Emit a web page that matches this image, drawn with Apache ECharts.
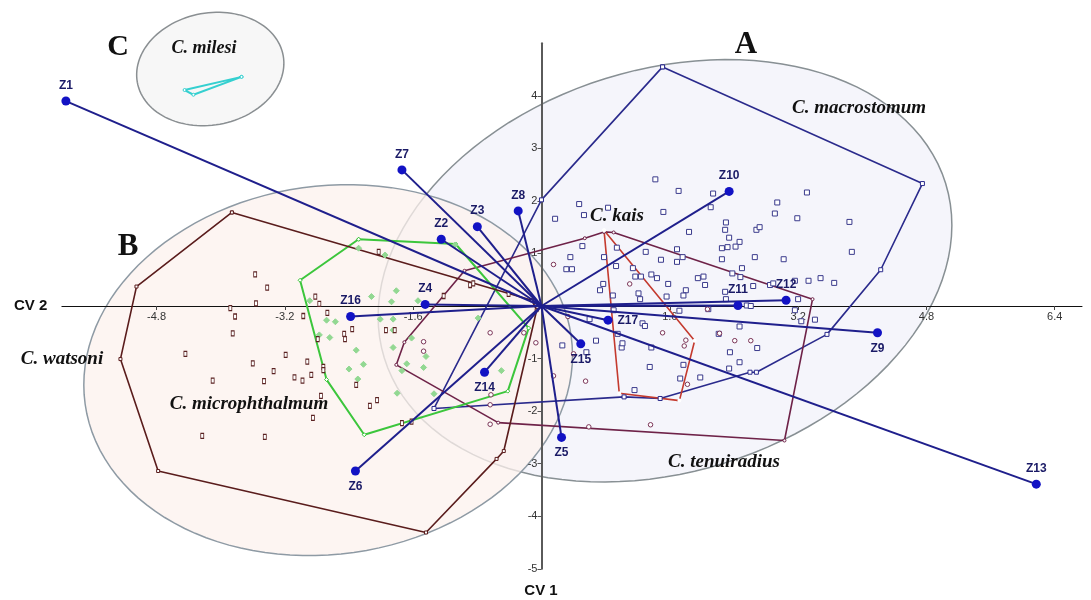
<!DOCTYPE html>
<html>
<head>
<meta charset="utf-8">
<script src="https://cdn.jsdelivr.net/npm/echarts@6/dist/echarts.min.js"></script>
<style>
html,body{margin:0;padding:0;background:#fff;}
#chart{width:1091px;height:600px;}
</style>
</head>
<body>
<div id="chart"></div>
<script>
// ---------- DATA ----------
const xTickValues = [-4.8, -3.2, -1.6, 1.6, 3.2, 4.8, 6.4];
const yTickValues = [-5, -4, -3, -2, -1, 1, 2, 3, 4];

// Variable loading vectors (CV2, CV1)
const vectorNames = ['Z1','Z2','Z3','Z4','Z5','Z6','Z7','Z8','Z9','Z10','Z11','Z12','Z13','Z14','Z15','Z16','Z17'];
const vectorX = [-5.93,-1.25,-0.80,-1.45,0.25,-2.32,-1.74,-0.29,4.19,2.34,2.45,3.05,6.17,-0.71,0.49,-2.38,0.83];
const vectorY = [3.90,1.27,1.51,0.03,-2.50,-3.14,2.59,1.81,-0.51,2.18,0.01,0.11,-3.39,-1.26,-0.72,-0.20,-0.27];

// Confidence ellipses: centre and two conjugate semi-axis vectors (data units)
const ellipseNames = ['A', 'B', 'C'];
const ellipseCentre = [[1.54, 0.67], [-2.66, -1.22], [-4.13, 4.51]];
const ellipseAxis1 = [[3.50, 1.66], [3.03, 0.65], [0.91, 0.25]];
const ellipseAxis2 = [[0.74, -3.66], [0.32, -3.47], [0.12, -1.05]];

// Convex hulls (vertices)
const hullMacrostomum = [[1.51,4.55],[4.75,2.33],[4.23,0.69],[3.56,-0.54],[2.68,-1.26],[2.60,-1.26],[1.48,-1.76],[1.03,-1.73],[-1.34,-1.95],[0.00,2.02]];
const hullTenuiradius = [[0.78,1.41],[0.90,1.40],[3.38,0.13],[3.03,-2.56],[-0.54,-2.22],[-1.81,-1.12],[-1.71,-0.69],[-0.96,0.67],[0.54,1.29]];
const hullKais = [[0.78,1.44],[1.91,-0.66],[1.72,-1.80],[0.97,-1.66]];
const hullMicrophthalmum = [[-2.28,1.27],[-1.07,1.18],[-0.16,-0.42],[-0.42,-1.62],[-2.21,-2.45],[-2.68,-1.40],[-3.01,0.49]];
const hullWatsoni = [[-3.86,1.78],[-0.12,0.11],[-0.06,-0.08],[-0.47,-2.76],[-0.56,-2.91],[-1.44,-4.31],[-4.78,-3.14],[-5.25,-1.01],[-5.05,0.37]];
const hullMilesi = [[-3.74,4.36],[-4.45,4.11],[-4.34,4.02]];

// Specimen scores
const ptsMacrostomum = [[1.42,2.41],[1.71,2.19],[2.14,2.14],[2.11,1.88],[3.31,2.16],[2.94,1.97],[2.91,1.76],[3.19,1.67],[3.84,1.60],[3.87,1.03],
[1.52,1.79],[0.17,1.66],[0.47,1.94],[0.53,1.73],[0.83,1.87],[1.84,1.41],[2.30,1.59],[2.29,1.45],[2.34,1.30],[2.68,1.45],
[2.72,1.50],[2.47,1.22],[2.25,1.10],[2.32,1.12],[2.42,1.13],[0.51,1.14],[0.36,0.93],[0.31,0.70],[0.38,0.70],[0.78,0.93],
[0.94,1.11],[0.93,0.76],[1.30,1.03],[1.49,0.88],[1.69,1.08],[1.69,0.84],[1.76,0.93],[2.25,0.89],[2.66,0.93],[3.02,0.89],
[2.50,0.72],[2.38,0.62],[2.48,0.55],[2.02,0.56],[2.04,0.40],[1.95,0.53],[1.14,0.72],[1.17,0.56],[1.24,0.56],[1.37,0.60],
[1.44,0.53],[1.58,0.42],[1.80,0.30],[1.77,0.20],[1.56,0.18],[1.21,0.24],[1.23,0.13],[0.77,0.42],[0.73,0.30],[0.89,0.20],
[2.29,0.27],[2.64,0.38],[2.85,0.40],[2.89,0.43],[3.16,0.48],[3.33,0.48],[3.48,0.53],[3.65,0.44],[3.20,0.13],[3.16,-0.08],
[3.41,-0.26],[3.24,-0.29],[2.56,0.01],[2.61,0.00],[2.30,0.13],[1.72,-0.09],[2.08,-0.06],[2.47,-0.39],[2.21,-0.53],[2.35,-0.88],
[2.47,-1.07],[2.69,-0.80],[2.34,-1.19],[1.98,-1.36],[1.73,-1.38],[1.77,-1.12],[1.35,-1.16],[1.37,-0.79],[1.00,-0.79],[1.01,-0.71],
[0.68,-0.66],[0.26,-0.75],[0.56,-0.88],[1.16,-1.60],[1.26,-0.33],[1.29,-0.38],[0.95,-0.53],[0.60,-0.25],[0.90,-0.08]];
const ptsTenuiradius = [[0.15,0.79],[1.10,0.42],[1.51,-0.51],[2.41,-0.66],[2.61,-0.66],[1.80,-0.65],[1.78,-0.76],[0.40,-0.91],[0.55,-1.43],[1.82,-1.49],
[1.36,-2.26],[0.59,-2.30],[0.15,-1.33],[0.33,-0.20],[2.07,-0.06],[2.22,-0.52],[-0.64,-0.51],[-0.07,-0.70],[-0.22,-0.51],[-0.63,-1.69],
[-0.64,-1.88],[-0.64,-2.25],[-1.47,-0.86],[-1.47,-0.68]];
const ptsMicrophthalmum = [[-2.28,1.10],[-1.95,0.97],[-1.81,0.29],[-1.87,0.08],[-2.12,0.18],[-1.54,0.10],[-2.68,-0.27],[-2.57,-0.30],[-2.01,-0.25],[-1.85,-0.25],
[-2.64,-0.60],[-2.77,-0.55],[-2.31,-0.84],[-2.40,-1.20],[-2.29,-1.39],[-1.85,-0.79],[-1.68,-1.10],[-1.47,-1.17],[-1.44,-0.96],[-1.80,-1.66],
[-1.34,-1.67],[-0.79,-0.23],[-0.50,-1.23],[-1.74,-1.23],[-1.08,1.16],[-2.89,0.10],[-2.22,-1.11],[-1.62,-0.61],[-1.85,-0.46]];
const ptsWatsoni = [[-3.57,0.60],[-3.42,0.35],[-3.56,0.05],[-3.88,-0.04],[-3.82,-0.20],[-3.85,-0.52],[-4.44,-0.91],[-3.60,-1.09],[-3.19,-0.93],[-2.92,-1.06],
[-3.34,-1.24],[-4.10,-1.42],[-3.46,-1.43],[-3.08,-1.36],[-2.98,-1.42],[-2.87,-1.31],[-2.72,-1.16],[-2.72,-1.22],[-2.97,-0.19],[-2.82,0.18],
[-2.77,0.04],[-2.67,-0.13],[-2.79,-0.63],[-2.46,-0.53],[-2.45,-0.63],[-2.36,-0.44],[-2.31,-1.50],[-2.75,-1.71],[-2.85,-2.13],[-4.23,-2.47],
[-3.45,-2.49],[-2.14,-1.90],[-2.05,-1.79],[-1.94,-0.46],[-1.83,-0.46],[-1.74,-2.23],[-1.62,-2.20],[-0.89,0.40],[-0.85,0.43],[-1.22,0.19],
[-2.03,1.03],[-0.41,0.23]];

// ---------- STYLE / LAYOUT ----------
const X_MIN = -5.98, X_MAX = 6.74, Y_MIN = -5, Y_MAX = 5;
const GRID = {left:61.9, right:9, top:43.25, bottom:31.25};
const W = 1091, H = 600;
const gridW = W - GRID.left - GRID.right, gridH = H - GRID.top - GRID.bottom;
// shift axes so they cross at the origin (labels travel with them)
const yAxisOffset = -gridW * (0 - X_MIN) / (X_MAX - X_MIN);
const xAxisOffset = -gridH * (0 - Y_MIN) / (Y_MAX - Y_MIN);

const labelPlacement = {Z5:'bottom',Z6:'bottom',Z9:'bottom',Z14:'bottom',Z15:'bottom',Z17:'right'};
const ellipseFill = ['rgba(241,241,250,0.75)', 'rgba(252,241,238,0.75)', 'rgba(246,246,246,0.9)'];
const ellipseStroke = ['#889094', '#8e9aa4', '#8a8f92'];
const serif = '"Liberation Serif","DejaVu Serif",serif';
const sans = '"Liberation Sans",Arial,sans-serif';

const closed = arr => arr.concat([arr[0]]);

const chart = echarts.init(document.getElementById('chart'), null, {renderer:'canvas'});

const series = [];

// Ellipses
series.push({
  type:'custom', coordinateSystem:'cartesian2d', silent:true, z:1, clip:false,
  data: ellipseNames.map((n,i)=>[ellipseCentre[i][0], ellipseCentre[i][1],
        ellipseAxis1[i][0], ellipseAxis1[i][1], ellipseAxis2[i][0], ellipseAxis2[i][1], i]),
  encode:{x:0,y:1},
  renderItem(params, api){
    const cx=api.value(0), cy=api.value(1), ax=api.value(2), ay=api.value(3), bx=api.value(4), by=api.value(5), k=api.value(6);
    const pts=[];
    for(let j=0;j<120;j++){
      const t=2*Math.PI*j/120;
      pts.push(api.coord([cx+ax*Math.cos(t)+bx*Math.sin(t), cy+ay*Math.cos(t)+by*Math.sin(t)]));
    }
    return {type:'polygon', shape:{points:pts}, style:{fill:ellipseFill[k], stroke:ellipseStroke[k], lineWidth:1.5}};
  }
});

function hull(name, data, color, width, symbol, size){
  series.push({
    name, type:'line', data: closed(data), z:3, clip:false, silent:true,
    symbol, symbolSize:size, showSymbol:true,
    itemStyle:{color:'#fff', borderColor:color, borderWidth:1, opacity:1},
    lineStyle:{color, width}
  });
}
hull('macrostomum', hullMacrostomum, '#2a2a8c', 1.6, 'rect', 4);
hull('tenuiradius', hullTenuiradius, '#6e2248', 1.6, 'circle', 3);
hull('kais', hullKais, '#c43a2e', 1.6, 'emptyCircle', 2);
hull('microphthalmum', hullMicrophthalmum, '#3cc63c', 2, 'diamond', 4);
hull('watsoni', hullWatsoni, '#5a1c1c', 1.6, 'rect', 3);
hull('milesi', hullMilesi, '#35d0d0', 2, 'circle', 3);

function pts(name, data, symbol, size, fill, border){
  series.push({
    name, type:'scatter', data, z:4, silent:true, symbol, symbolSize:size,
    itemStyle:{color:fill, borderColor:border, borderWidth:1, opacity:1}
  });
}
pts('macrostomum pts', ptsMacrostomum, 'rect', 5, '#ffffff', '#3a3a8c');
pts('tenuiradius pts', ptsTenuiradius, 'circle', 4.5, '#ffffff', '#7b3457');
pts('microphthalmum pts', ptsMicrophthalmum, 'diamond', 6, '#92d892', '#92d892');
pts('watsoni pts', ptsWatsoni, 'rect', [3,5], '#ffffff', '#5b2222');

// Vectors
vectorNames.forEach((n,i)=>{
  series.push({
    name:n+' line', type:'line', data:[[0,0],[vectorX[i],vectorY[i]]], z:5, silent:true,
    showSymbol:false, symbol:'none', clip:false,
    lineStyle:{color:'#1f1f8c', width:2}
  });
});
series.push({
  name:'vectors', type:'scatter', z:6, silent:true, symbol:'circle', symbolSize:9,
  itemStyle:{color:'#1212c4', opacity:1},
  data: vectorNames.map((n,i)=>({name:n, value:[vectorX[i],vectorY[i]],
      label:{position: labelPlacement[n] || 'top'}})),
  label:{show:true, formatter:'{b}', color:'#1a1a66', fontFamily:sans, fontWeight:'bold', fontSize:12, distance:5, opacity:1}
});

function txt(text, x, y, font){
  return {type:'text', x, y, z:100, zlevel:0,
    style:{text, font, fill:'#111', align:'center', verticalAlign:'middle'}};
}

const option = {
  animation:false,
  backgroundColor:'#ffffff',
  grid:{left:GRID.left, right:GRID.right, top:GRID.top, bottom:GRID.bottom, containLabel:false},
  xAxis:{
    type:'value', min:X_MIN, max:X_MAX, position:'bottom', offset:xAxisOffset, z:2,
    axisLine:{onZero:false, lineStyle:{color:'#111', width:1}},
    axisTick:{show:true, length:4, customValues:xTickValues, lineStyle:{color:'#444'}},
    axisLabel:{show:true, customValues:xTickValues, color:'#333', fontSize:11, fontFamily:sans, margin:5,
      formatter:v=>v.toFixed(1)},
    splitLine:{show:false}
  },
  yAxis:{
    type:'value', min:Y_MIN, max:Y_MAX, position:'left', offset:yAxisOffset, z:2,
    axisLine:{onZero:false, lineStyle:{color:'#5a5a5a', width:2}},
    axisTick:{show:true, length:4, customValues:yTickValues, lineStyle:{color:'#555'}},
    axisLabel:{show:true, customValues:yTickValues, color:'#333', fontSize:11, fontFamily:sans, margin:4},
    splitLine:{show:false}
  },
  series,
  graphic:{elements:[
    {type:'text', left:14, top:298, z:100, style:{text:'CV 2', font:'bold 15px '+sans, fill:'#111'}},
    txt('CV 1', 541, 591, 'bold 15px '+sans),
    txt('A', 746, 45, 'bold 31px '+serif),
    txt('B', 128, 247, 'bold 31px '+serif),
    txt('C', 118, 47, 'bold 30px '+serif),
    txt('C. milesi', 204, 48, 'italic bold 18px '+serif),
    txt('C. macrostomum', 859, 108, 'italic bold 19px '+serif),
    txt('C. kais', 617, 216, 'italic bold 19px '+serif),
    txt('C. tenuiradius', 724, 462, 'italic bold 19px '+serif),
    txt('C. microphthalmum', 249, 404, 'italic bold 19px '+serif),
    txt('C. watsoni', 62, 359, 'italic bold 19px '+serif)
  ]}
};
chart.setOption(option);
</script>
</body>
</html>
